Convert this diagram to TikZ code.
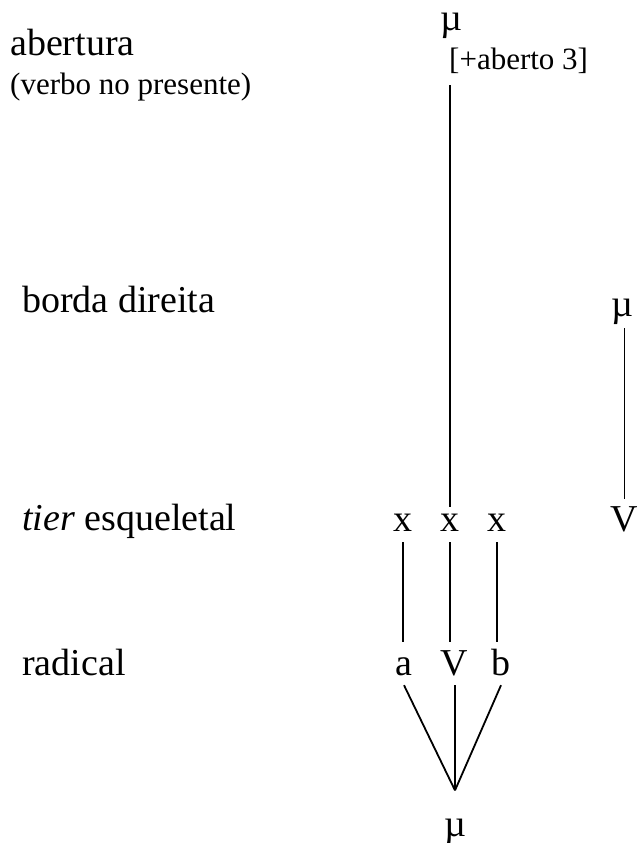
\documentclass[tikz,border=0pt]{standalone}
\usepackage{fontspec}
\setmainfont{Liberation Serif}
\begin{document}
\begin{tikzpicture}[x=1pt,y=-1pt,
  big/.style={font=\fontsize{38}{42}\selectfont, inner sep=0pt},
  small/.style={font=\fontsize{31}{35}\selectfont, inner sep=0pt},
  lbl/.style={big, anchor=base west},
  seg/.style={big, anchor=base, text depth=0pt},
  tall/.style={seg, text height=25pt},
  link/.style={line width=1.8pt}]
\fill[white] (0,0) rectangle (639,843);
\useasboundingbox (0,0) rectangle (639,843);

% tier labels on the left
\node[lbl] (abertura) at (10,56) {abertura};
\node[small, anchor=base west] (verbo) at (10,95) {(verbo no presente)};
\node[lbl] (borda) at (22,312) {borda direita};
\node[lbl] (tier) at (22,530) {\textit{tier} esqueletal};
\node[lbl] (radical) at (22,675) {radical};

% opening tier
\node[seg] (mu1) at (451,31) {µ};
\node[small, anchor=base west] (aberto) at (449,70) {[+aberto 3]};

% skeletal tier
\node[seg] (x1) at (403,531) {x};
\node[seg] (x2) at (450,531) {x};
\node[seg] (x3) at (497,531) {x};

% root tier
\node[tall] (a) at (404,675) {a};
\node[tall] (v) at (454,675) {V};
\node[tall] (b) at (501,675) {b};
\node[seg] (mu3) at (455,836) {µ};
\coordinate (apex) at ([yshift=28pt]mu3.north);

% right edge
\node[seg] (mu2) at (622,316) {µ};
\node[tall] (v2) at (624.5,531) {V};

% association lines
\draw[link, shorten <=11pt, shorten >=6pt] (aberto.south -| x2.north) -- (x2.north);
\draw[link, shorten <=11pt, shorten >=8pt] (x1.south) -- (x1.south |- a.north);
\draw[link, shorten <=11pt, shorten >=8pt] (x2.south) -- (x2.south |- v.north);
\draw[link, shorten <=11pt, shorten >=8pt] (x3.south) -- (x3.south |- b.north);
\draw[link] ([yshift=-10pt]a.south) -- (apex);
\draw[link] ([yshift=-10pt]v.south -| apex) -- (apex);
\draw[link] ([yshift=-10pt]b.south) -- (apex);
\draw[link, shorten <=12pt, shorten >=7pt] (v2.north |- mu2.south) -- (v2.north);
\end{tikzpicture}
\end{document}
